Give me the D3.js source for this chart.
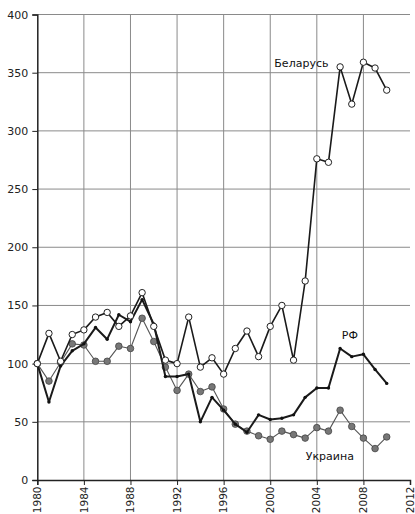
<!DOCTYPE html>
<html><head><meta charset="utf-8">
<script src="https://cdn.jsdelivr.net/npm/d3@7"></script>
<style>body{margin:0;background:#fff}svg{display:block}</style>
</head><body>
<svg id="c" width="415" height="514"></svg>
<script>
const years = d3.range(1980, 2011);
const belarus = [100,126,102,125,129,140,144,132,141,161,132,103,100,140,97,105,91,113,128,106,132,150,103,171,276,273,355,323,359,354,335];
const rf = [100,67,98,111,117,131,121,142,136,155,134,89,89,91,50,71,60,48,41,56,52,53,56,71,79,79,113,106,108,95,83];
const ukraine = [100,85,101,117,116,102,102,115,113,139,119,97,77,91,76,80,61,48,42,38,35,42,39,36,45,42,60,46,36,27,37];
const xTicks = [1980,1984,1988,1992,1996,2000,2004,2008,2012];
const yTicks = [0,50,100,150,200,250,300,350,400];

const svg = d3.select("#c");
const x = d3.scaleLinear().domain([1980, 2012]).range([37.3, 410]);
const y = d3.scaleLinear().domain([0, 400]).range([480, 14.5]);
const font = "Verdana, 'DejaVu Sans', sans-serif";

// grid
svg.append("g").selectAll("line").data(yTicks.filter(d=>d>0)).join("line")
  .attr("x1", x(1980)).attr("x2", x(2012)).attr("y1", d=>y(d)).attr("y2", d=>y(d))
  .attr("stroke", "#8a8a8a").attr("stroke-width", 1);
svg.append("g").selectAll("line").data(xTicks.filter(d=>d>1980 && d<2012)).join("line")
  .attr("x1", d=>x(d)).attr("x2", d=>x(d)).attr("y1", y(0)).attr("y2", y(400))
  .attr("stroke", "#8a8a8a").attr("stroke-width", 1);

// axes
const yAxis = svg.append("g").attr("transform", `translate(${x(1980)},0)`)
  .call(d3.axisLeft(y).tickValues(yTicks).tickSize(5).tickPadding(4));
const xAxis = svg.append("g").attr("transform", `translate(0,${y(0)})`)
  .call(d3.axisBottom(x).tickValues(xTicks).tickFormat(d3.format("d")).tickSize(5).tickPadding(4));
[yAxis, xAxis].forEach(g => {
  g.select(".domain").attr("stroke", "#222").attr("stroke-width", 1.5);
  g.selectAll(".tick line").attr("stroke", "#222");
  g.selectAll("text").attr("font-family", font).attr("font-size", 11).attr("fill", "#222");
});
xAxis.selectAll(".tick text")
  .attr("transform", "rotate(-90)")
  .attr("text-anchor", "end")
  .attr("font-size", 10.5)
  .attr("x", -6.5).attr("y", 0).attr("dy", "0.3em");

function series(vals, opts) {
  const data = years.map((yr, i) => [yr, vals[i]]);
  const line = d3.line().x(d=>x(d[0])).y(d=>y(d[1]));
  const g = svg.append("g");
  g.append("path").datum(data).attr("d", line).attr("fill", "none")
    .attr("stroke", opts.stroke).attr("stroke-width", opts.width).attr("stroke-linejoin", "round");
  g.selectAll("circle").data(data).join("circle")
    .attr("cx", d=>x(d[0])).attr("cy", d=>y(d[1])).attr("r", opts.r)
    .attr("fill", opts.fill).attr("stroke", opts.mstroke).attr("stroke-width", opts.mw);
}
series(ukraine, {stroke:"#555", width:1.1, r:3.3, fill:"#777", mstroke:"#444", mw:0.8});
series(rf, {stroke:"#1a1a1a", width:2, r:1.7, fill:"#111", mstroke:"none", mw:0});
series(belarus, {stroke:"#1a1a1a", width:1.6, r:3.2, fill:"#fff", mstroke:"#222", mw:1});

const labels = [["Беларусь", 2000.35, 354.5], ["РФ", 2006.15, 121], ["Украина", 2003.05, 17]];
svg.append("g").selectAll("text").data(labels).join("text")
  .attr("x", d=>x(d[1])).attr("y", d=>y(d[2])).text(d=>d[0])
  .attr("font-family", font).attr("font-size", 11).attr("fill", "#111");
</script>
</body></html>
